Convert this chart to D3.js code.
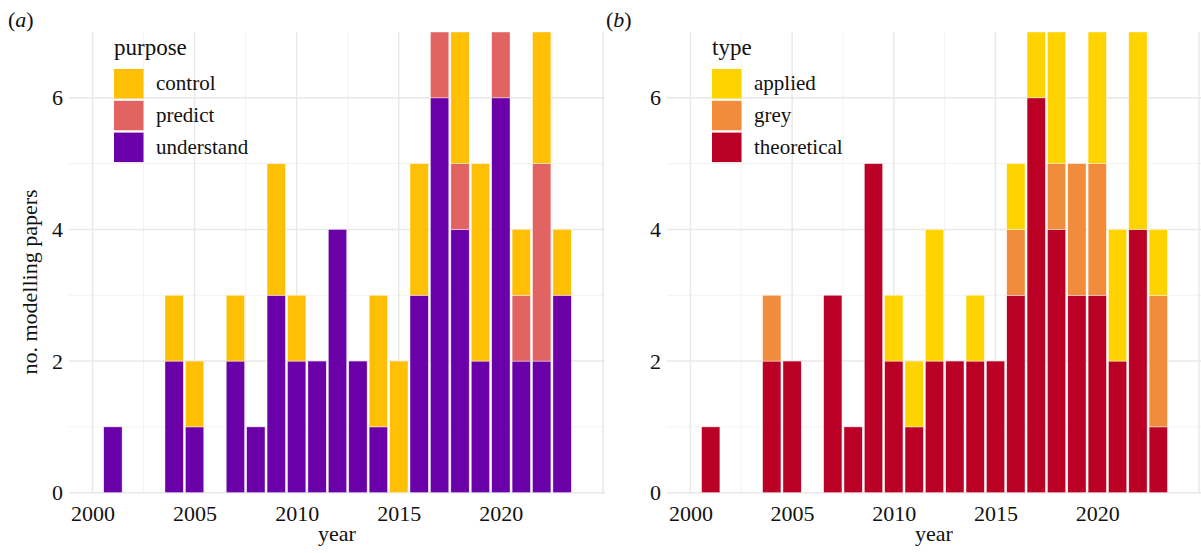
<!DOCTYPE html>
<html lang="en">
<head>
    <meta charset="UTF-8">
    <title>modelling papers</title>
    <script src="https://cdn.jsdelivr.net/npm/d3@7"></script>
    <style>
        body{ margin:0; background:#fff }
        svg{ font-family:"Liberation Serif","Times New Roman",serif }
    </style>
</head>
<body>
    <svg id="chart" width="1201" height="553"></svg>
</body>
<script>
    // data (bars above 7 are cut by the panel top)
    let years      = [2001,2002,2003,2004,2005,2006,2007,2008,2009,2010,2011,2012,2013,2014,2015,2016,2017,2018,2019,2020,2021,2022,2023]
    let understand = [1,0,0,2,1,0,2,1,3,2,2,4,2,1,0,3,6,4,2,6,2,2,3]
    let predict    = [0,0,0,0,0,0,0,0,0,0,0,0,0,0,0,0,1,1,0,1,1,3,0]
    let control    = [0,0,0,1,1,0,1,0,2,1,0,0,0,2,2,2,0,2,3,0,1,2,1]

    let theoretical = [1,0,0,2,2,0,3,1,5,2,1,2,2,2,2,3,6,4,3,3,2,4,1]
    let grey        = [0,0,0,1,0,0,0,0,0,0,0,0,0,0,0,1,0,1,2,2,0,0,2]
    let applied     = [0,0,0,0,0,0,0,0,0,1,1,2,0,1,0,1,1,2,0,2,2,3,1]

    let yTicks = [0,2,4,6]
    let xTicks = [2000,2005,2010,2015,2020]

    let svg = d3.select("#chart")
    let serif = "'Liberation Serif','Times New Roman',serif"

    let y = d3.scaleLinear().domain([0,7]).range([492.7,32])

    function panel(opt)
    {
        let x = d3.scaleLinear().domain([1998.85,2025.1]).range([opt.left,opt.right])
        let g = svg.append("g")

        let clipId = "clip" + opt.tag
        g.append("clipPath").attr("id",clipId)
            .append("rect")
            .attr("x",opt.left).attr("y",y(7))
            .attr("width",opt.right-opt.left).attr("height",y(0)-y(7))

        // grid
        let grid = g.append("g")
        grid.selectAll(".ymin").data([1,3,5]).enter().append("line")
            .attr("x1",opt.left).attr("x2",opt.right)
            .attr("y1",d=>y(d)).attr("y2",d=>y(d))
            .attr("stroke","#f2f2f2").attr("stroke-width",1)
        grid.selectAll(".xmin").data([2002.5,2007.5,2012.5,2017.5,2022.5]).enter().append("line")
            .attr("y1",y(0)).attr("y2",y(7))
            .attr("x1",d=>x(d)).attr("x2",d=>x(d))
            .attr("stroke","#f2f2f2").attr("stroke-width",1)
        grid.selectAll(".ymaj").data(yTicks).enter().append("line")
            .attr("x1",opt.left).attr("x2",opt.right)
            .attr("y1",d=>y(d)).attr("y2",d=>y(d))
            .attr("stroke","#e8e8e8").attr("stroke-width",1.4)
        grid.selectAll(".xmaj").data(xTicks.concat([2025])).enter().append("line")
            .attr("y1",y(0)).attr("y2",y(7))
            .attr("x1",d=>x(d)).attr("x2",d=>x(d))
            .attr("stroke","#e8e8e8").attr("stroke-width",1.4)

        // stacked bars
        let rows = years.map((yr,i)=>{
            let r = {year:yr}
            opt.keys.forEach((k,j)=>r[k]=opt.series[j][i])
            return r
        })
        let stack = d3.stack().keys(opt.keys)(rows)
        let bw = (x(1)-x(0))*0.9

        g.append("g").attr("clip-path","url(#"+clipId+")")
            .selectAll("g").data(stack).enter().append("g")
            .attr("fill",(d,i)=>opt.colors[i])
            .selectAll("rect").data(d=>d.filter(p=>p[1]>p[0])).enter().append("rect")
            .attr("x",d=>x(d.data.year)-bw/2)
            .attr("width",bw)
            .attr("y",d=>y(d[1]))
            .attr("height",d=>y(d[0])-y(d[1]))
            .attr("stroke","#fff").attr("stroke-width",0.6).attr("stroke-opacity",0.7)

        // axes
        let xaxis = d3.axisBottom(x).tickValues(xTicks).tickFormat(d3.format("d")).tickSize(0).tickPadding(12.7)
        g.append("g").attr("transform","translate(0,"+y(0)+")").call(xaxis)
            .attr("font-family",serif).attr("font-size",22)
            .call(a=>a.select(".domain").remove())
            .selectAll("text").attr("fill","#111")

        let yaxis = d3.axisLeft(y).tickValues(yTicks).tickFormat(d3.format("d")).tickSize(0).tickPadding(6)
        g.append("g").attr("transform","translate("+opt.left+",0)").call(yaxis)
            .attr("font-family",serif).attr("font-size",22)
            .call(a=>a.select(".domain").remove())
            .selectAll("text").attr("fill","#111")

        g.append("text").text("year")
            .attr("x",(opt.left+opt.right)/2).attr("y",541)
            .attr("text-anchor","middle").attr("font-size",22).attr("fill","#111")

        // panel tag
        let tag = g.append("text").attr("x",opt.left-61).attr("y",27).attr("font-size",22).attr("fill","#111")
        tag.append("tspan").text("(")
        tag.append("tspan").text(opt.tag).attr("font-style","italic")
        tag.append("tspan").text(")")

        // legend
        let lx = opt.left+45
        g.append("text").text(opt.title).attr("x",lx).attr("y",55).attr("font-size",23).attr("fill","#111")
        let lg = g.append("g")
        let order = opt.keys.slice().reverse()
        let cols = opt.colors.slice().reverse()
        lg.selectAll("rect").data(order).enter().append("rect")
            .attr("x",lx).attr("y",(d,i)=>69+i*31.8)
            .attr("width",29.5).attr("height",29.5)
            .attr("fill",(d,i)=>cols[i])
        lg.selectAll("text").data(order).enter().append("text")
            .text(d=>d)
            .attr("x",lx+42).attr("y",(d,i)=>90+i*31.8)
            .attr("font-size",21).attr("fill","#111")
    }

    panel({
        tag:"a", left:69, right:605, title:"purpose",
        keys:["understand","predict","control"],
        series:[understand,predict,control],
        colors:["#6a00a8","#e16463","#febf05"]
    })
    panel({
        tag:"b", left:667, right:1201, title:"type",
        keys:["theoretical","grey","applied"],
        series:[theoretical,grey,applied],
        colors:["#bb0026","#f08c3c","#fed300"]
    })

    svg.append("text").text("no. modelling papers")
        .attr("transform","translate(37,282) rotate(-90)")
        .attr("text-anchor","middle").attr("font-size",22).attr("fill","#111")
</script>
</html>
